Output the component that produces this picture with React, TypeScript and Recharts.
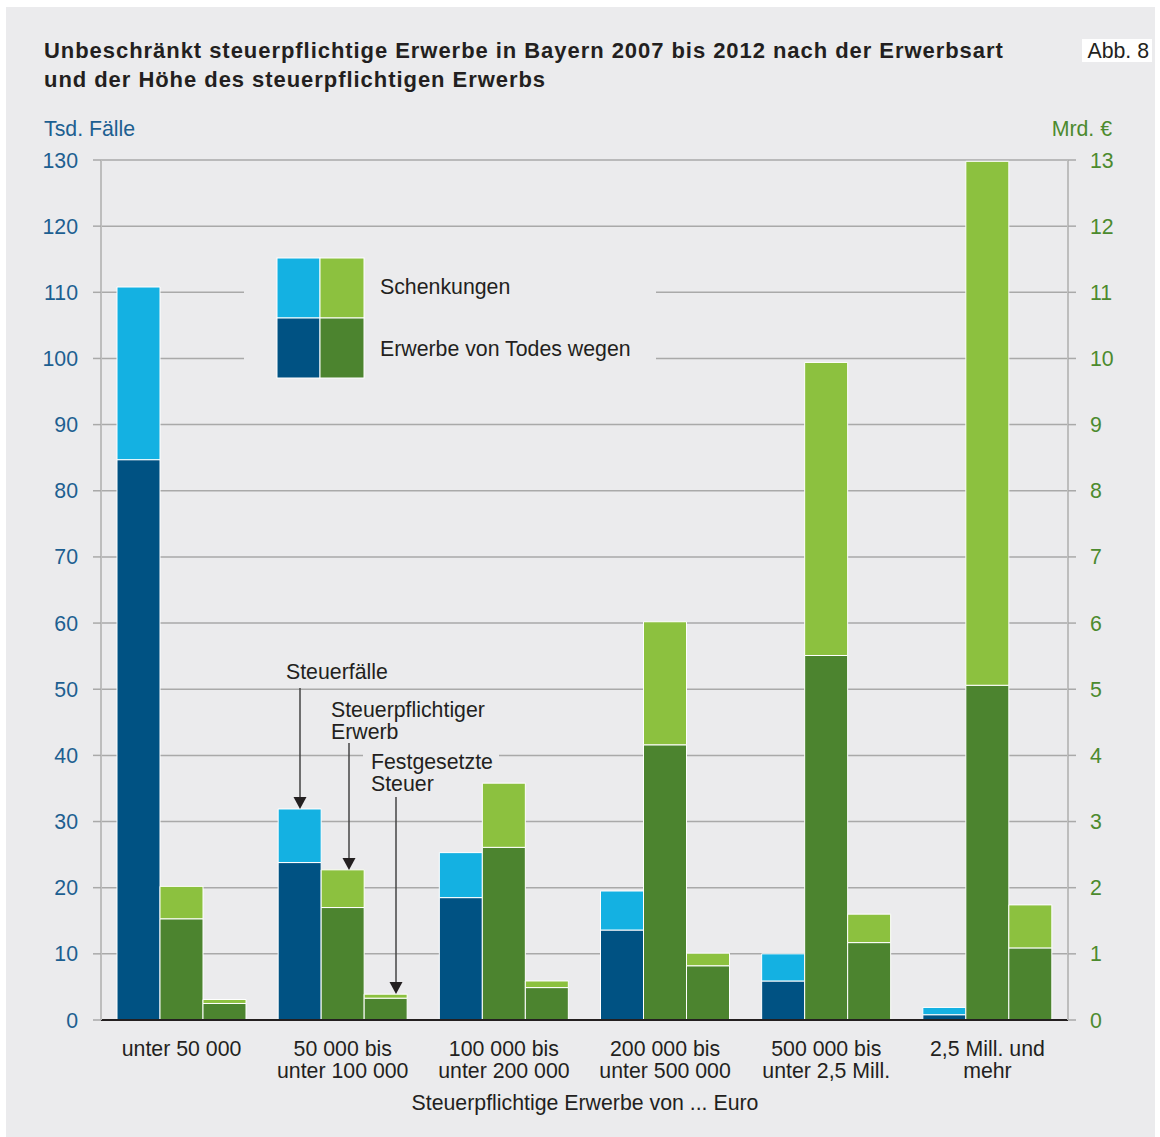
import { BarChart, Bar, XAxis, YAxis, CartesianGrid } from 'recharts'

const categories = [
  'unter 50 000',
  '50 000 bis\nunter 100 000',
  '100 000 bis\nunter 200 000',
  '200 000 bis\nunter 500 000',
  '500 000 bis\nunter 2,5 Mill.',
  '2,5 Mill. und\nmehr',
]

// Tsd. Fälle
const faelleTodes = [84.7, 23.8, 18.5, 13.6, 5.9, 0.8]
const faelleSchenk = [26.1, 8.1, 6.8, 5.9, 4.1, 1.1]
// Mrd. € steuerpflichtiger Erwerb
const erwerbTodes = [1.53, 1.7, 2.61, 4.16, 5.51, 5.06]
const erwerbSchenk = [0.49, 0.57, 0.97, 1.86, 4.43, 7.92]
// Mrd. € festgesetzte Steuer
const steuerTodes = [0.25, 0.33, 0.49, 0.82, 1.17, 1.09]
const steuerSchenk = [0.06, 0.06, 0.1, 0.19, 0.43, 0.65]

const leftTicks = [0, 10, 20, 30, 40, 50, 60, 70, 80, 90, 100, 110, 120, 130]
const rightTicks = [0, 1, 2, 3, 4, 5, 6, 7, 8, 9, 10, 11, 12, 13]

const data = categories.map((name, i) => ({
  name,
  faelleTodes: faelleTodes[i],
  faelleSchenk: faelleSchenk[i],
  erwerbTodes: erwerbTodes[i],
  erwerbSchenk: erwerbSchenk[i],
  steuerTodes: steuerTodes[i],
  steuerSchenk: steuerSchenk[i],
}))

const FONT = '"Liberation Sans", Arial, Helvetica, sans-serif'
const FS = 21.3
const BG = '#ebebed'
const DARK_BLUE = '#005283'
const LIGHT_BLUE = '#14b1e2'
const DARK_GREEN = '#4c842f'
const LIGHT_GREEN = '#8cc13f'
const BLUE_TEXT = '#1d5f91'
const GREEN_TEXT = '#4c8a2e'
const GRID = '#a9a9a9'

const CategoryTick = (props: any) => {
  const { x, y, payload } = props
  const lines = String(payload.value).split('\n')
  return (
    <text x={x} y={y} textAnchor="middle" fill="#231f20" fontSize={FS} fontFamily={FONT}>
      {lines.map((l, i) => (
        <tspan key={i} x={x} y={y + 28 + i * 22}>
          {l}
        </tspan>
      ))}
    </text>
  )
}

const Overlay = () => (
  <svg
    width={1149}
    height={1130}
    style={{ position: 'absolute', left: 0, top: 0, pointerEvents: 'none' }}
  >
    <g transform="translate(-6,-7)" fontFamily={FONT}>
      <text x={44} y={58} fontSize={22} fontWeight="bold" fill="#231f20" letterSpacing={0.95}>
        Unbeschränkt steuerpflichtige Erwerbe in Bayern 2007 bis 2012 nach der Erwerbsart
      </text>
      <text x={44} y={87} fontSize={22} fontWeight="bold" fill="#231f20" letterSpacing={0.95}>
        und der Höhe des steuerpflichtigen Erwerbs
      </text>
      <rect x={1082} y={39} width={70} height={23} fill="#fff" />
      <text x={1149} y={58} fontSize={FS} fill="#231f20" textAnchor="end">
        Abb. 8
      </text>
      <text x={44} y={136} fontSize={FS} fill={BLUE_TEXT}>
        Tsd. Fälle
      </text>
      <text x={1112} y={136} fontSize={FS} fill={GREEN_TEXT} textAnchor="end">
        Mrd. €
      </text>

      {/* legend */}
      <rect x={244} y={250} width={412} height={135} fill={BG} />
      <rect x={277} y={258} width={43} height={60} fill={LIGHT_BLUE} stroke="#fff" />
      <rect x={320} y={258} width={44} height={60} fill={LIGHT_GREEN} stroke="#fff" />
      <rect x={277} y={318} width={43} height={60} fill={DARK_BLUE} stroke="#fff" />
      <rect x={320} y={318} width={44} height={60} fill={DARK_GREEN} stroke="#fff" />
      <text x={380} y={294} fontSize={FS} fill="#231f20">
        Schenkungen
      </text>
      <text x={380} y={356} fontSize={FS} fill="#231f20">
        Erwerbe von Todes wegen
      </text>

      {/* annotations */}
      <text x={286} y={679} fontSize={FS} fill="#231f20">
        Steuerfälle
      </text>
      <line x1={300} y1={688} x2={300} y2={798} stroke="#444" strokeWidth={1.5} />
      <polygon points="293.5,797 306.5,797 300,809" fill="#231f20" />

      <text x={331} y={717} fontSize={FS} fill="#231f20">
        Steuerpflichtiger
      </text>
      <text x={331} y={739} fontSize={FS} fill="#231f20">
        Erwerb
      </text>
      <line x1={349} y1={743} x2={349} y2={859} stroke="#444" strokeWidth={1.5} />
      <polygon points="342.5,858 355.5,858 349,870" fill="#231f20" />

      <rect x={363} y={746} width={136} height={22} fill={BG} />
      <text x={371} y={769} fontSize={FS} fill="#231f20">
        Festgesetzte
      </text>
      <text x={371} y={791} fontSize={FS} fill="#231f20">
        Steuer
      </text>
      <line x1={396} y1={797} x2={396} y2={983} stroke="#444" strokeWidth={1.5} />
      <polygon points="389.5,982 402.5,982 396,994" fill="#231f20" />

      <text x={585} y={1110} fontSize={FS} fill="#231f20" textAnchor="middle">
        Steuerpflichtige Erwerbe von ... Euro
      </text>
    </g>
  </svg>
)

export default function App() {
  return (
    <div
      style={{
        position: 'absolute',
        left: 6,
        top: 7,
        width: 1149,
        height: 1130,
        background: BG,
        fontFamily: FONT,
      }}
    >
      <BarChart
        width={1149}
        height={1130}
        data={data}
        margin={{ top: 153, right: 7, bottom: 47, left: 15 }}
        barCategoryGap={16}
        barGap={0}
      >
        <CartesianGrid yAxisId="left" vertical={false} stroke={GRID} strokeWidth={1.5} />
        <XAxis
          dataKey="name"
          xAxisId={0}
          tick={<CategoryTick />}
          tickLine={false}
          axisLine={{ stroke: '#231f20', strokeWidth: 2 }}
          height={70}
          interval={0}
        />
        <YAxis
          yAxisId="left"
          orientation="left"
          domain={[0, 130]}
          ticks={leftTicks}
          width={80}
          tickSize={8}
          tickMargin={15}
          tick={{ fill: BLUE_TEXT, fontSize: FS, fontFamily: FONT }}
          tickLine={{ stroke: GRID, strokeWidth: 1.5 }}
          axisLine={{ stroke: '#bdbdbd', strokeWidth: 2 }}
          allowDataOverflow
        />
        <YAxis
          yAxisId="right"
          orientation="right"
          domain={[0, 13]}
          ticks={rightTicks}
          width={80}
          tickSize={8}
          tickMargin={14}
          tick={{ fill: GREEN_TEXT, fontSize: FS, fontFamily: FONT }}
          tickLine={{ stroke: GRID, strokeWidth: 1.5 }}
          axisLine={{ stroke: '#bdbdbd', strokeWidth: 2 }}
          allowDataOverflow
        />
        <Bar dataKey="faelleTodes" stackId="faelle" yAxisId="left" fill={DARK_BLUE} stroke="#fff" strokeWidth={1} isAnimationActive={false} />
        <Bar dataKey="faelleSchenk" stackId="faelle" yAxisId="left" fill={LIGHT_BLUE} stroke="#fff" strokeWidth={1} isAnimationActive={false} />
        <Bar dataKey="erwerbTodes" stackId="erwerb" yAxisId="right" fill={DARK_GREEN} stroke="#fff" strokeWidth={1} isAnimationActive={false} />
        <Bar dataKey="erwerbSchenk" stackId="erwerb" yAxisId="right" fill={LIGHT_GREEN} stroke="#fff" strokeWidth={1} isAnimationActive={false} />
        <Bar dataKey="steuerTodes" stackId="steuer" yAxisId="right" fill={DARK_GREEN} stroke="#fff" strokeWidth={1} isAnimationActive={false} />
        <Bar dataKey="steuerSchenk" stackId="steuer" yAxisId="right" fill={LIGHT_GREEN} stroke="#fff" strokeWidth={1} isAnimationActive={false} />
      </BarChart>
      <Overlay />
    </div>
  )
}
